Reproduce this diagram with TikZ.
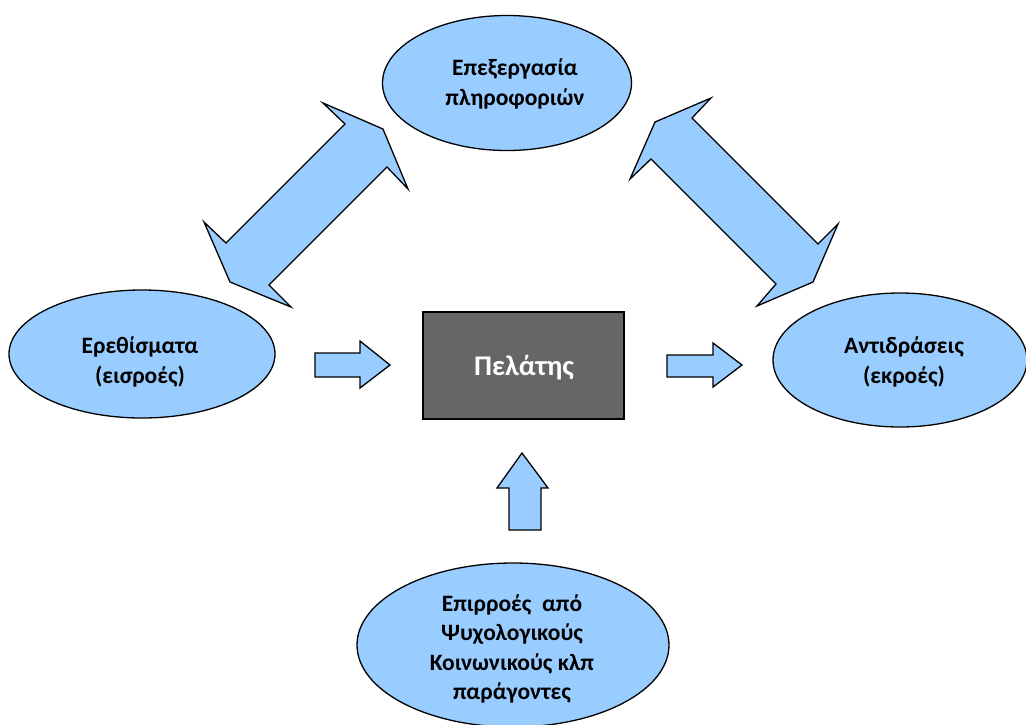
\documentclass[tikz,border=0pt]{standalone}
\usepackage{fontspec}
\setmainfont{Carlito}
\usetikzlibrary{shapes.geometric}
\definecolor{lblue}{HTML}{99CCFF}
\definecolor{dgray}{HTML}{666666}
\tikzset{
  oval/.style={ellipse,draw=black,fill=lblue,line width=1.3pt,inner sep=0pt},
  blk/.style={draw=black,fill=lblue,line width=1.3pt,line join=miter},
  lbl/.style={align=center,font=\fontsize{23.5}{29.5}\selectfont\bfseries,text=black},
  bigl/.style={font=\fontsize{28.5}{30}\selectfont\bfseries},
}
\begin{document}
\begin{tikzpicture}[x=1pt,y=-1pt]
\useasboundingbox (0,0) rectangle (1026,724);
% ellipses
\node[oval,minimum width=249pt,minimum height=135pt] (proc) at (507,83) {};
\node[oval,minimum width=266pt,minimum height=128pt] (in) at (142,354) {};
\node[oval,minimum width=254pt,minimum height=134pt] (out) at (900,360) {};
\node[oval,minimum width=312pt,minimum height=164pt] (infl) at (513,645) {};
% client box
\node[draw=black,fill=dgray,line width=1.3pt,minimum width=201pt,minimum height=107pt,inner sep=0pt] (client) at (523.5,365.5) {};
% texts
\node[lbl] (proctxt) at (515,84) {Επεξεργασία\\πληροφοριών};
\node[lbl] (intxt) at (140,362) {Ερεθίσματα\\(εισροές)};
\node[lbl] (outtxt) at (904,362) {Αντιδράσεις\\(εκροές)};
\node[lbl] (infltxt) at (512,649) {Επιρροές~~από\\Ψυχολογικούς\\Κοινωνικούς κλπ\\παράγοντες};
\node[bigl,text=white] (clienttxt) at (524,368) {Πελάτης};
% block arrows
\draw[blk] (315,353) -- (360,353) -- (360,341) -- (390,365) -- (360,388) -- (360,377) -- (315,377) -- cycle;
\draw[blk] (667,355) -- (713,355) -- (713,343) -- (742,365) -- (713,387) -- (713,377) -- (667,377) -- cycle;
\draw[blk] (509,530) -- (509,488) -- (497,488) -- (522,453) -- (548,488) -- (541,488) -- (541,530) -- cycle;
% double arrows
\draw[blk] (383,129) -- (408,189) -- (387,167) -- (269,285) -- (291,307) -- (230,282) -- (204,222) -- (226,243) -- (345,124) -- (323,103) -- cycle;
\draw[blk] (655,122) -- (711,98) -- (692,118) -- (818,244) -- (838,224) -- (813,282) -- (757,306) -- (776,284) -- (651,159) -- (630,179) -- cycle;
\end{tikzpicture}
\end{document}
